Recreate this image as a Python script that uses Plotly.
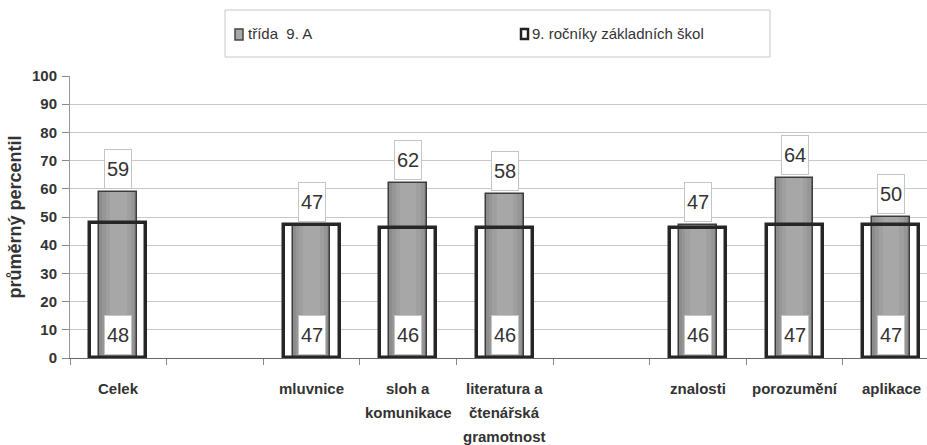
import plotly.graph_objects as go

# data
categories = ["Celek", " ", "mluvnice", "sloh a<br>komunikace",
              "literatura a<br>čtenářská<br>gramotnost", "  ",
              "znalosti", "porozumění", "aplikace"]
bar_cats = ["Celek", "mluvnice", "sloh a<br>komunikace",
            "literatura a<br>čtenářská<br>gramotnost",
            "znalosti", "porozumění", "aplikace"]
trida = [59, 47, 62, 58, 47, 64, 50]
skoly = [48, 47, 46, 46, 46, 47, 47]
legend_names = ["třída  9. A", "9. ročníky základních škol"]

FONT = "Liberation Sans, Arial, sans-serif"
W, H = 927, 445
L, R, T, B = 70, 0, 76, 87


def px(x):  # pixel -> paper x
    return (x - L) / (W - L - R)


def py(y):  # pixel -> paper y
    return (H - B - y) / (H - T - B)


fig = go.Figure()

# white body of the wide school bars (behind)
fig.add_trace(go.Bar(x=bar_cats, y=skoly, width=0.58, showlegend=False,
                     marker=dict(color="white", line=dict(width=0)),
                     hoverinfo="skip"))

# class bars, layered to fake cylinder shading
layers = [(0.39, "#8c8c8c"), (0.33, "#969696"), (0.26, "#9f9f9f"), (0.17, "#a7a7a7")]
for i, (w, c) in enumerate(layers):
    fig.add_trace(go.Bar(
        x=bar_cats, y=trida, width=w, name=legend_names[0], showlegend=False,
        marker=dict(color=c,
                    line=dict(color="#3c3c3c" if i == 0 else c,
                              width=1.5 if i == 0 else 0)),
    ))

# outline of the school bars (on top)
fig.add_trace(go.Bar(x=bar_cats, y=skoly, width=0.58, name=legend_names[1],
                     showlegend=False,
                     marker=dict(color="rgba(255,255,255,0)",
                                 line=dict(color="#262626", width=3.5))))

ann = []
for c, t, s in zip(bar_cats, trida, skoly):
    box = dict(x=c, xref="x", yref="y", showarrow=False, yanchor="bottom",
               bgcolor="white", bordercolor="#c4c4c4", borderwidth=1,
               width=24, height=36, borderpad=1,
               font=dict(family=FONT, size=20, color="#333333"))
    ann.append(dict(box, y=t, text=str(t), yshift=3))
    ann.append(dict(box, y=0, text=str(s), yshift=3))

# category labels, one annotation per line for the wider line spacing
for c in categories:
    for j, line in enumerate(c.split("<br>")):
        if not line.strip():
            continue
        ann.append(dict(text=line, x=c, xref="x", y=0, yref="y",
                        yanchor="middle", yshift=-30 - 24 * j, showarrow=False,
                        font=dict(family=FONT, size=15, color="#333333",
                                  weight="bold")))

# legend drawn by hand
for name, xt in zip(legend_names, [246, 530]):
    ann.append(dict(text=name, xref="paper", yref="paper", x=px(xt), y=py(34),
                    xanchor="left", yanchor="middle", showarrow=False,
                    font=dict(family=FONT, size=15, color="#333333")))

shapes = [
    dict(type="rect", xref="paper", yref="paper",
         x0=px(225), x1=px(770), y0=py(57), y1=py(10),
         line=dict(color="#c8c8c8", width=1), fillcolor="white", layer="below"),
    dict(type="rect", xref="paper", yref="paper",
         x0=px(235), x1=px(243), y0=py(40), y1=py(29),
         line=dict(color="#444444", width=1.5), fillcolor="#a8a8a8"),
    dict(type="rect", xref="paper", yref="paper",
         x0=px(521), x1=px(528), y0=py(39), y1=py(29),
         line=dict(color="#222222", width=2.5), fillcolor="white"),
]

fig.update_layout(
    width=W, height=H,
    margin=dict(l=L, r=R, t=T, b=B, autoexpand=False),
    paper_bgcolor="white", plot_bgcolor="white",
    barmode="overlay", bargap=0, showlegend=False,
    annotations=ann, shapes=shapes,
    xaxis=dict(categoryorder="array", categoryarray=categories,
               range=[-0.5, 8.37], tickson="boundaries", ticks="outside",
               ticklen=6, tickcolor="#888", showline=True, automargin=False,
               linecolor="#666", linewidth=1, showgrid=False,
               showticklabels=False),
    yaxis=dict(range=[0, 100], dtick=10, ticks="outside", ticklen=7,
               tickcolor="#888", showline=True, linecolor="#999", automargin=False,
               gridcolor="#c8c8c8", gridwidth=1, zeroline=False,
               ticklabelstandoff=2,
               title=dict(text="průměrný percentil", standoff=5,
                          font=dict(family=FONT, size=18, color="#333333",
                                    weight="bold")),
               tickfont=dict(family=FONT, size=15, color="#333333", weight="bold")),
)

fig.write_html("out.html", config={"displayModeBar": False},
               post_script="document.body.style.margin='0px';")
